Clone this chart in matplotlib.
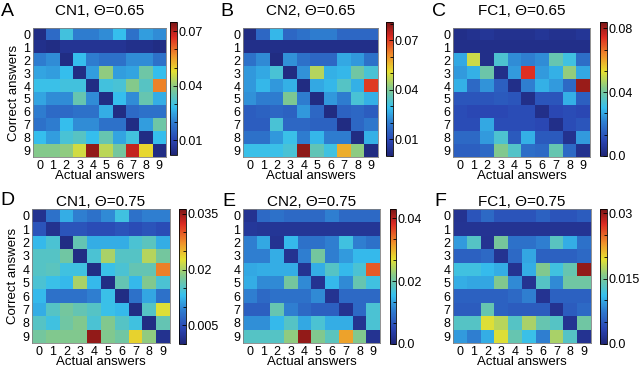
import matplotlib

matplotlib.use("Agg")
import matplotlib.pyplot as plt
import numpy as np
from matplotlib.colors import LinearSegmentedColormap
from matplotlib.ticker import AutoMinorLocator

plt.rcParams["font.family"] = ["Liberation Sans", "DejaVu Sans"]

digits = [str(i) for i in range(10)]

# confusion values (x1e-3), rows = correct answer, cols = actual answer
cn1_065 = [
    [4, 17, 30, 20, 20, 22, 28, 18, 24, 22],
    [5, 4, 6, 6, 6, 6, 6, 5, 5, 4],
    [20, 22, 4, 28, 20, 18, 18, 22, 22, 18],
    [25, 24, 28, 4, 24, 40, 24, 25, 36, 28],
    [29, 29, 30, 30, 4, 30, 31, 39, 33, 58],
    [25, 22, 22, 35, 22, 4, 28, 22, 35, 26],
    [20, 17, 17, 18, 18, 26, 4, 17, 18, 18],
    [18, 20, 28, 22, 22, 18, 18, 4, 24, 36],
    [28, 24, 31, 33, 28, 35, 25, 30, 4, 28],
    [39, 39, 40, 46, 73, 44, 37, 69, 49, 4],
]
cn2_065 = [
    [2, 16, 28, 16, 18, 20, 20, 16, 16, 16],
    [3, 3, 3, 3, 3, 3, 3, 3, 3, 3],
    [18, 22, 2, 23, 18, 16, 16, 26, 24, 18],
    [24, 26, 32, 2, 23, 46, 27, 28, 38, 32],
    [24, 28, 24, 27, 2, 26, 28, 34, 27, 70],
    [23, 20, 20, 40, 20, 2, 24, 20, 32, 27],
    [14, 15, 16, 15, 24, 16, 2, 15, 16, 14],
    [14, 14, 32, 16, 16, 15, 15, 2, 16, 19],
    [18, 18, 24, 30, 20, 28, 20, 20, 2, 27],
    [30, 30, 30, 32, 79, 36, 31, 57, 42, 2],
]
fc1_065 = [
    [3, 4, 5, 4, 4, 4, 5, 4, 4, 5],
    [3, 3, 3, 3, 3, 3, 3, 3, 3, 3],
    [27, 50, 3, 34, 23, 21, 23, 38, 32, 18],
    [25, 28, 39, 3, 25, 74, 25, 28, 44, 27],
    [28, 17, 24, 15, 3, 21, 28, 25, 17, 81],
    [13, 13, 13, 14, 13, 3, 13, 13, 28, 15],
    [11, 10, 10, 10, 11, 11, 3, 10, 11, 10],
    [11, 11, 27, 11, 11, 11, 10, 3, 11, 13],
    [17, 17, 25, 34, 14, 28, 14, 14, 4, 25],
    [15, 15, 17, 42, 35, 18, 17, 38, 17, 4],
]
cn1_075 = [
    [1.8, 8.0, 12.0, 9.1, 8.0, 9.8, 13.8, 8.0, 9.1, 9.1],
    [5.4, 1.8, 5.4, 5.4, 4.7, 4.7, 5.4, 4.7, 5.4, 4.7],
    [12.7, 14.5, 1.1, 16.3, 12.0, 12.0, 12.0, 14.5, 15.6, 12.0],
    [15.2, 15.2, 17.1, 1.1, 14.5, 20.0, 15.2, 15.2, 20.7, 17.4],
    [15.2, 15.6, 13.8, 13.8, 1.1, 13.4, 14.5, 16.3, 16.3, 28.0],
    [14.5, 13.4, 12.7, 20.0, 12.7, 1.1, 16.3, 12.7, 18.2, 14.5],
    [12.7, 8.0, 8.0, 8.0, 9.1, 13.4, 1.1, 8.0, 11.6, 8.0],
    [12.0, 15.2, 17.4, 16.3, 15.2, 13.4, 12.7, 1.1, 15.2, 22.5],
    [15.2, 13.8, 17.1, 18.2, 14.5, 18.2, 15.2, 13.8, 1.1, 16.3],
    [17.4, 18.2, 18.2, 18.2, 35.2, 18.2, 17.1, 23.6, 18.9, 1.8],
]
cn2_075 = [
    [2.2, 8.6, 9.5, 8.6, 8.6, 8.6, 10.8, 8.6, 8.6, 8.6],
    [3.0, 2.6, 2.6, 2.6, 2.6, 2.6, 2.6, 2.6, 2.6, 2.6],
    [10.8, 13.8, 2.2, 15.0, 9.5, 9.5, 10.8, 16.3, 10.8, 9.5],
    [10.8, 10.8, 14.2, 2.2, 10.8, 20.6, 10.8, 12.9, 15.0, 15.0],
    [13.8, 14.2, 14.2, 14.2, 2.2, 14.2, 18.1, 15.0, 17.2, 35.3],
    [14.2, 11.6, 11.6, 20.6, 11.6, 2.2, 15.0, 11.6, 19.4, 16.3],
    [10.8, 8.6, 9.5, 9.5, 9.5, 11.6, 2.2, 8.6, 8.6, 8.6],
    [7.7, 7.7, 19.4, 10.8, 8.6, 7.7, 7.7, 2.2, 8.6, 17.2],
    [12.0, 12.0, 15.0, 18.1, 13.8, 17.2, 14.2, 14.2, 2.2, 17.2],
    [18.1, 18.1, 18.1, 22.4, 41.7, 21.5, 18.5, 31.0, 21.5, 2.2],
]
fc1_075 = [
    [1.6, 4.7, 6.2, 4.7, 4.7, 4.7, 5.6, 4.7, 4.7, 5.3],
    [1.8, 1.8, 1.8, 1.8, 1.8, 1.8, 1.8, 1.8, 1.8, 1.8],
    [9.3, 13.0, 1.6, 14.9, 6.8, 6.8, 7.8, 13.3, 10.2, 6.8],
    [5.6, 5.6, 6.2, 1.6, 6.2, 9.9, 5.6, 5.6, 5.6, 6.2],
    [11.8, 11.8, 10.9, 10.2, 1.6, 10.2, 15.5, 11.8, 14.0, 30.1],
    [10.2, 9.9, 9.9, 15.5, 8.4, 1.6, 13.0, 8.4, 14.6, 14.6],
    [5.6, 5.6, 5.6, 5.6, 6.2, 7.8, 1.6, 5.6, 5.6, 5.6],
    [5.3, 5.3, 14.0, 5.6, 5.3, 5.3, 5.3, 1.6, 5.3, 6.2],
    [13.0, 13.0, 19.2, 17.7, 13.0, 17.1, 14.0, 13.0, 1.6, 14.6],
    [9.3, 7.8, 10.2, 19.2, 14.0, 11.5, 7.8, 17.1, 13.0, 1.6],
]

panels = [
    ("A", "CN1, \u0398=0.65", cn1_065, (0.002, 0.075), [0.01, 0.04, 0.07], ["0.01", "0.04", "0.07"]),
    ("B", "CN2, \u0398=0.65", cn2_065, (0.0, 0.081), [0.01, 0.04, 0.07], ["0.01", "0.04", "0.07"]),
    ("C", "FC1, \u0398=0.65", fc1_065, (0.0, 0.084), [0.0, 0.04, 0.08], ["0.0", "0.04", "0.08"]),
    ("D", "CN1, \u0398=0.75", cn1_075, (0.0, 0.0363), [0.005, 0.02, 0.035], ["0.005", "0.02", "0.035"]),
    ("E", "CN2, \u0398=0.75", cn2_075, (0.0, 0.043), [0.0, 0.02, 0.04], ["0.0", "0.02", "0.04"]),
    ("F", "FC1, \u0398=0.75", fc1_075, (0.0, 0.031), [0.0, 0.015, 0.03], ["0.0", "0.015", "0.03"]),
]

# jet, slightly muted like the printed figure
muted_jet = LinearSegmentedColormap.from_list("muted_jet", [
    (0.0, "#1f2676"),
    (0.11, "#2a44b2"),
    (0.25, "#2f7ed0"),
    (0.36, "#36c0ee"),
    (0.5, "#80c890"),
    (0.63, "#e6e030"),
    (0.75, "#f0902a"),
    (0.89, "#dc2a22"),
    (1.0, "#7a1616"),
])

W, H = 640, 368
# pixel boxes: heatmap (x0, x1, y0, y1), colorbar (x0, x1, y0, y1), letter (x, y top)
boxes = [
    ((33, 166, 28, 157), (170, 177, 22, 155), (1, 3)),
    ((243, 378, 28, 157), (386, 393, 22, 156), (220, 3)),
    ((453, 590, 28, 157), (600, 607, 22, 156), (432, 3)),
    ((32, 170, 209, 343), (179, 186, 209, 344), (0, 192)),
    ((243, 380, 209, 343), (390, 396, 209, 344), (222, 193)),
    ((453, 591, 209, 343), (600, 607, 209, 344), (434, 193)),
]


def px_rect(x0, x1, y0, y1):
    return [x0 / W, 1 - y1 / H, (x1 - x0) / W, (y1 - y0) / H]


fig = plt.figure(figsize=(6.4, 3.68), dpi=100)

for i, (letter, title, mat, (vmin, vmax), cticks, clabels) in enumerate(panels):
    hbox, cbox, (lx, ly) = boxes[i]
    ax = fig.add_axes(px_rect(*hbox))
    data = np.array(mat) * 1e-3
    im = ax.imshow(data, cmap=muted_jet, vmin=vmin, vmax=vmax, aspect="auto",
                   interpolation="nearest")
    ax.set_xticks(range(10))
    ax.set_yticks(range(10))
    ax.set_xticklabels(digits, fontsize=9)
    ax.set_yticklabels(digits, fontsize=9)
    ax.tick_params(length=0, pad=2)
    for s in ax.spines.values():
        s.set_color("#808080")
        s.set_linewidth(0.6)
    ax.set_title(title, fontsize=11, pad=9 if i < 3 else 2)
    ax.set_xlabel("Actual answers", fontsize=9.5, labelpad=-1)
    if i % 3 == 0:
        ax.set_ylabel("Correct answers", fontsize=9.5, labelpad=2)

    cax = fig.add_axes(px_rect(*cbox))
    cb = fig.colorbar(im, cax=cax)
    cb.set_ticks(cticks)
    cb.set_ticklabels(clabels)
    cb.ax.yaxis.set_minor_locator(AutoMinorLocator(3))
    cb.ax.tick_params(which="both", direction="in", labelsize=9, pad=1,
                      width=0.6)
    cb.ax.tick_params(which="major", length=3)
    cb.ax.tick_params(which="minor", length=2)
    cb.outline.set_linewidth(0.6)

    fig.text(lx / W, 1 - ly / H, letter, fontsize=14, va="top", ha="left")

fig.savefig("out.png", dpi=100)
